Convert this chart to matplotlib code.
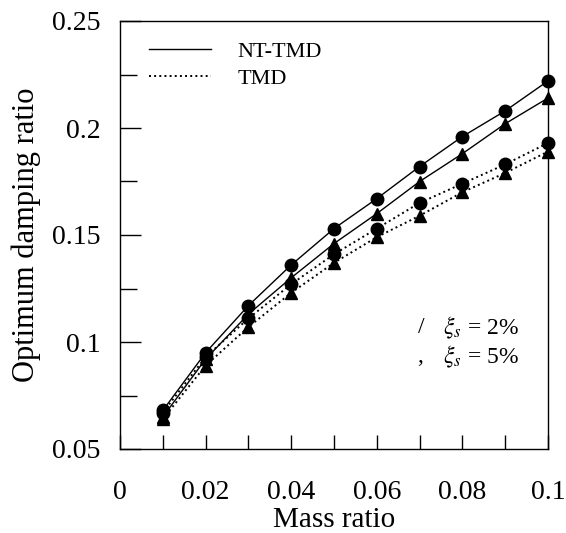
import matplotlib
matplotlib.use("Agg")
import matplotlib.pyplot as plt
from matplotlib.lines import Line2D
from matplotlib.ticker import MultipleLocator, FuncFormatter

plt.rcParams["font.family"] = ["Liberation Serif", "DejaVu Serif"]
plt.rcParams["mathtext.fontset"] = "stix"

mass_ratio = [0.01, 0.02, 0.03, 0.04, 0.05, 0.06, 0.07, 0.08, 0.09, 0.10]
nt_tmd_2 = [0.068, 0.095, 0.117, 0.136, 0.153, 0.167, 0.182, 0.196, 0.208, 0.222]
nt_tmd_5 = [0.065, 0.092, 0.113, 0.130, 0.146, 0.160, 0.175, 0.188, 0.202, 0.214]
tmd_2 = [0.067, 0.093, 0.111, 0.127, 0.141, 0.153, 0.165, 0.174, 0.183, 0.193]
tmd_5 = [0.064, 0.089, 0.107, 0.123, 0.137, 0.149, 0.159, 0.170, 0.179, 0.189]

fig = plt.figure(figsize=(5.66, 5.33), dpi=100)
ax = fig.add_axes([120 / 566, 1 - 449 / 533, 428 / 566, 428 / 533])

ms = 9
ax.plot(mass_ratio, nt_tmd_2, "k-", lw=1, marker="o", ms=ms, clip_on=False, zorder=3)
ax.plot(mass_ratio, nt_tmd_5, "k-", lw=1, marker="^", ms=ms, clip_on=False, zorder=3)
ax.plot(mass_ratio, tmd_2, "k:", lw=1.4, marker="o", ms=ms, clip_on=False, zorder=3)
ax.plot(mass_ratio, tmd_5, "k:", lw=1.4, marker="^", ms=ms, clip_on=False, zorder=3)

ax.set_xlim(0, 0.1)
ax.set_ylim(0.05, 0.25)
ax.xaxis.set_major_locator(MultipleLocator(0.02))
ax.xaxis.set_minor_locator(MultipleLocator(0.01))
ax.yaxis.set_major_locator(MultipleLocator(0.05))
ax.yaxis.set_minor_locator(MultipleLocator(0.025))
fmt = FuncFormatter(lambda v, p: f"{v:.3f}".rstrip("0").rstrip(".") if abs(v) > 1e-9 else "0")
ax.xaxis.set_major_formatter(fmt)
ax.yaxis.set_major_formatter(fmt)
ax.tick_params(which="both", direction="in", labelsize=20, width=1)
ax.tick_params(axis="x", which="both", length=10, pad=22)
ax.tick_params(axis="y", which="major", length=15, pad=14)
ax.tick_params(axis="y", which="minor", length=12)
for s in ax.spines.values():
    s.set_linewidth(1)

ax.set_xlabel("Mass ratio", fontsize=21, labelpad=2)
ax.set_ylabel("Optimum damping ratio", fontsize=22, labelpad=8)

handles = [Line2D([], [], color="k", lw=1, ls="-"),
           Line2D([], [], color="k", lw=1.4, ls=":")]
ax.legend(handles, ["NT-TMD", "TMD"], loc="upper left", frameon=False,
          fontsize=16, handlelength=2.8, handletextpad=1.2,
          labelspacing=0.3, bbox_to_anchor=(0.02, 1.0))

ax.text(0.705, 0.283, "/", transform=ax.transAxes, fontsize=17, ha="center", va="center")
ax.text(0.755, 0.283, r"$\xi_s$ = 2%", transform=ax.transAxes, fontsize=17, ha="left", va="center")
ax.text(0.70, 0.215, ",", transform=ax.transAxes, fontsize=17, ha="center", va="center")
ax.text(0.755, 0.215, r"$\xi_s$ = 5%", transform=ax.transAxes, fontsize=17, ha="left", va="center")

fig.savefig("out.png", dpi=100)
